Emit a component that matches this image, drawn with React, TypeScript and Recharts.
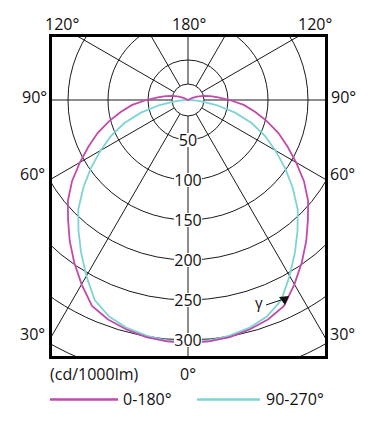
import { RadarChart, Radar, PolarGrid, PolarAngleAxis, PolarRadiusAxis } from "recharts";

// gamma angles (deg) of the measured half-plane, step 5
const GAMMA = [
  0, 5, 10, 15, 20, 25, 30, 35, 40, 45, 50, 55, 60, 65, 70, 75, 80, 85, 90,
  95, 100, 105, 110, 115, 120, 125, 130, 135, 140, 145, 150, 155, 160, 165, 170, 175, 180,
];

// intensity in cd/1000lm
const PLANE_0_180 = [
  304, 303, 301, 297, 292, 284, 266, 248, 230, 212, 196, 177, 156, 137, 120, 102, 85, 70, 52,
  38, 28, 20, 12, 6, 2, 0, 0, 0, 0, 0, 0, 0, 0, 0, 0, 0, 0,
];
const PLANE_90_270 = [
  303, 302, 299, 295, 288, 276, 254, 233, 213, 194, 171, 148, 126, 106, 85, 61, 36, 14, 3,
  1, 0, 0, 0, 0, 0, 0, 0, 0, 0, 0, 0, 0, 0, 0, 0, 0, 0,
];

const RADIUS_TICKS = [20, 50, 100, 150, 200, 250, 300, 350];
const RADIUS_LABELS = [50, 100, 150, 200, 250, 300];
const GRID_ANGLES = [0, 30, 60, 90, 120, 150, 180, 210, 240, 270, 300, 330];

const PINK = "#c04bad";
const CYAN = "#7ed4d3";
const FONT = "'Open Sans', sans-serif";

// full circle: left half then mirrored right half
const last = GAMMA.length - 1;
const data = Array.from({ length: last * 2 }, (_, i) => {
  const idx = i <= last ? i : last * 2 - i;
  return { pos: i, gamma: GAMMA[idx], c0: PLANE_0_180[idx], c90: PLANE_90_270[idx] };
});

function RadiusTick(props: any) {
  const { x, y, payload } = props;
  const v = payload?.value;
  if (!RADIUS_LABELS.includes(v)) return <g />;
  const w = String(v).length * 9 + 1;
  return (
    <g>
      <rect x={x - w / 2} y={y - 7} width={w} height={14} fill="#fff" />
      <text x={x} y={y} textAnchor="middle" dominantBaseline="central" fontSize={16} fontFamily={FONT} fill="#111">
        {v}
      </text>
    </g>
  );
}

const labels = [
  { t: "120°", x: 45, y: 24 },
  { t: "180°", x: 172, y: 24 },
  { t: "120°", x: 298, y: 24 },
  { t: "90°", x: 22, y: 97 },
  { t: "90°", x: 331, y: 97 },
  { t: "60°", x: 20, y: 174 },
  { t: "60°", x: 330, y: 174 },
  { t: "30°", x: 20, y: 334 },
  { t: "30°", x: 330, y: 334 },
  { t: "(cd/1000lm)", x: 50, y: 374 },
  { t: "0°", x: 180, y: 374 },
];

export default function App() {
  return (
    <div style={{ position: "absolute", left: 0, top: 0, width: 376, height: 430, background: "#fff" }}>
      <div
        style={{
          position: "absolute",
          left: 49,
          top: 34,
          width: 273,
          height: 319,
          border: "3px solid #000",
          overflow: "hidden",
        }}
      >
        <RadarChart
          width={273}
          height={319}
          data={data}
          cx={136}
          cy={63}
          innerRadius={16}
          outerRadius={280}
          startAngle={-90}
          endAngle={-450}
          margin={{ top: 0, right: 0, bottom: 0, left: 0 }}
        >
          <PolarGrid gridType="circle" polarAngles={GRID_ANGLES} stroke="#1a1a1a" strokeWidth={1} strokeOpacity={1} />
          <PolarAngleAxis dataKey="pos" tick={false} tickLine={false} axisLine={false} />
          <PolarRadiusAxis
            angle={-90}
            domain={[20, 350]}
            allowDataOverflow
            ticks={RADIUS_TICKS as any}
            tick={RadiusTick}
            axisLine={false}
          />
          <Radar dataKey="c90" stroke={CYAN} strokeWidth={1.8} fill="none" fillOpacity={0} dot={false} isAnimationActive={false} />
          <Radar dataKey="c0" stroke={PINK} strokeWidth={1.8} fill="none" fillOpacity={0} dot={false} isAnimationActive={false} />
        </RadarChart>
      </div>
      <svg width={376} height={430} style={{ position: "absolute", left: 0, top: 0, pointerEvents: "none" }}>
        {labels.map((l, i) => (
          <text key={i} x={l.x} y={l.y} dominantBaseline="central" fontSize={16} fontFamily={FONT} fill="#111">
            {l.t}
          </text>
        ))}
        <text x={255} y={302} dominantBaseline="central" fontSize={15} fontFamily={FONT} fill="#111">
          γ
        </text>
        <line x1={266} y1={305} x2={281} y2={300} stroke="#111" strokeWidth={1} />
        <path d="M279,297 L289,296 L285,305 Z" fill="#111" />
        <line x1={50} y1={399.5} x2={118} y2={399.5} stroke={PINK} strokeWidth={2.5} />
        <text x={123} y={399} dominantBaseline="central" fontSize={16} fontFamily={FONT} fill="#111">
          0-180°
        </text>
        <line x1={197} y1={399.5} x2={260} y2={399.5} stroke={CYAN} strokeWidth={2.5} />
        <text x={266} y={399} dominantBaseline="central" fontSize={16} fontFamily={FONT} fill="#111">
          90-270°
        </text>
      </svg>
    </div>
  );
}
